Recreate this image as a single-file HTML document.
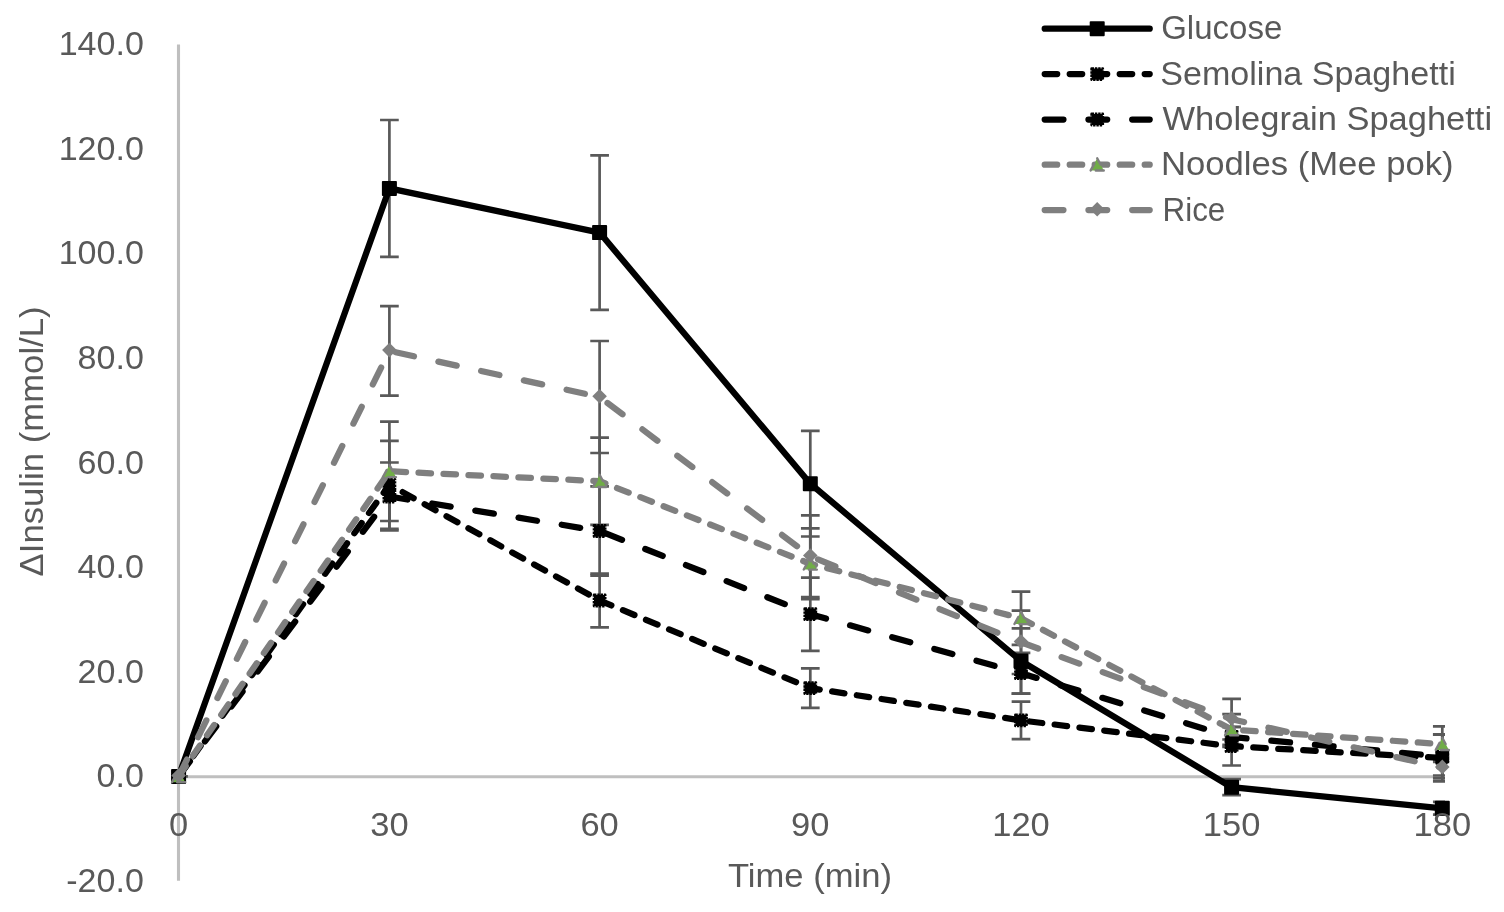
<!DOCTYPE html>
<html lang="en"><head><meta charset="utf-8"><title>Insulin response chart</title>
<style>html,body{margin:0;padding:0;background:#fff;}body{width:1504px;height:912px;overflow:hidden;}svg{display:block;}text{font-family:"Liberation Sans",sans-serif;font-size:33.6px;fill:#595959;}</style></head><body>
<svg width="1504" height="912" viewBox="0 0 1504 912">
<rect width="1504" height="912" fill="#fff"/>
<defs><clipPath id="pc"><rect x="175.9" y="40" width="1269.2" height="845"/></clipPath></defs>
<line x1="178.5" y1="44.6" x2="178.5" y2="880.8" stroke="#BFBFBF" stroke-width="3.1"/>
<line x1="178.5" y1="776.65" x2="1443.6" y2="776.65" stroke="#BFBFBF" stroke-width="3.0"/>
<g stroke="#595959" stroke-width="2.7" fill="none" clip-path="url(#pc)">
<path d="M169.25 776.4H187.95"/>
<path d="M389.40 120.00V256.80M380.05 120.00H398.75M380.05 256.80H398.75"/>
<path d="M599.60 155.30V309.90M590.25 155.30H608.95M590.25 309.90H608.95"/>
<path d="M810.30 430.90V536.50M800.95 430.90H819.65M800.95 536.50H819.65"/>
<path d="M1021.00 628.40V693.60M1011.65 628.40H1030.35M1011.65 693.60H1030.35"/>
<path d="M1231.60 779.20V795.20M1222.25 779.20H1240.95M1222.25 795.20H1240.95"/>
<path d="M1442.30 801.90V814.70M1432.95 801.90H1451.65M1432.95 814.70H1451.65"/>
<path d="M389.40 440.80V528.80M380.05 440.80H398.75M380.05 528.80H398.75"/>
<path d="M599.60 573.70V627.30M590.25 573.70H608.95M590.25 627.30H608.95"/>
<path d="M810.30 668.35V707.85M800.95 668.35H819.65M800.95 707.85H819.65"/>
<path d="M1021.00 701.65V739.15M1011.65 701.65H1030.35M1011.65 739.15H1030.35"/>
<path d="M1231.60 726.90V765.50M1222.25 726.90H1240.95M1222.25 765.50H1240.95"/>
<path d="M1442.30 734.40V781.40M1432.95 734.40H1451.65M1432.95 781.40H1451.65"/>
<path d="M389.40 462.50V530.50M380.05 462.50H398.75M380.05 530.50H398.75"/>
<path d="M599.60 486.40V575.60M590.25 486.40H608.95M590.25 575.60H608.95"/>
<path d="M810.30 577.60V650.80M800.95 577.60H819.65M800.95 650.80H819.65"/>
<path d="M1021.00 652.80V693.60M1011.65 652.80H1030.35M1011.65 693.60H1030.35"/>
<path d="M1231.60 727.00V747.00M1222.25 727.00H1240.95M1222.25 747.00H1240.95"/>
<path d="M1442.30 734.70V778.30M1432.95 734.70H1451.65M1432.95 778.30H1451.65"/>
<path d="M389.40 421.60V521.00M380.05 421.60H398.75M380.05 521.00H398.75"/>
<path d="M599.60 437.60V524.80M590.25 437.60H608.95M590.25 524.80H608.95"/>
<path d="M810.30 528.40V599.20M800.95 528.40H819.65M800.95 599.20H819.65"/>
<path d="M1021.00 591.70V644.90M1011.65 591.70H1030.35M1011.65 644.90H1030.35"/>
<path d="M1231.60 714.20V744.80M1222.25 714.20H1240.95M1222.25 744.80H1240.95"/>
<path d="M1442.30 726.40V762.00M1432.95 726.40H1451.65M1432.95 762.00H1451.65"/>
<path d="M389.40 306.15V395.65M380.05 306.15H398.75M380.05 395.65H398.75"/>
<path d="M599.60 341.00V453.00M590.25 341.00H608.95M590.25 453.00H608.95"/>
<path d="M810.30 515.30V597.20M800.95 515.30H819.65M800.95 597.20H819.65"/>
<path d="M1021.00 610.60V674.00M1011.65 610.60H1030.35M1011.65 674.00H1030.35"/>
<path d="M1231.60 698.90V739.50M1222.25 698.90H1240.95M1222.25 739.50H1240.95"/>
<path d="M1442.30 759.90V775.50M1432.95 759.90H1451.65M1432.95 775.50H1451.65"/>
</g>
<polyline points="178.60,776.40 389.40,188.40 599.60,232.60 810.30,483.70 1021.00,661.00 1231.60,787.20 1442.30,808.30" fill="none" stroke="#000000" stroke-width="6.25" stroke-linecap="round" stroke-linejoin="round"/>
<rect x="172.00" y="769.80" width="13.2" height="13.2" fill="#000" stroke="#000" stroke-width="1.8" stroke-linejoin="round"/>
<rect x="382.80" y="181.80" width="13.2" height="13.2" fill="#000" stroke="#000" stroke-width="1.8" stroke-linejoin="round"/>
<rect x="593.00" y="226.00" width="13.2" height="13.2" fill="#000" stroke="#000" stroke-width="1.8" stroke-linejoin="round"/>
<rect x="803.70" y="477.10" width="13.2" height="13.2" fill="#000" stroke="#000" stroke-width="1.8" stroke-linejoin="round"/>
<rect x="1014.40" y="654.40" width="13.2" height="13.2" fill="#000" stroke="#000" stroke-width="1.8" stroke-linejoin="round"/>
<rect x="1225.00" y="780.60" width="13.2" height="13.2" fill="#000" stroke="#000" stroke-width="1.8" stroke-linejoin="round"/>
<rect x="1435.70" y="801.70" width="13.2" height="13.2" fill="#000" stroke="#000" stroke-width="1.8" stroke-linejoin="round"/>
<polyline points="178.60,776.40 389.40,484.80 599.60,600.50 810.30,688.10 1021.00,720.40 1231.60,746.20 1442.30,757.90" fill="none" stroke="#000000" stroke-width="6.25" stroke-linecap="round" stroke-linejoin="round" stroke-dasharray="12.5 12.5"/>
<rect x="173.00" y="770.80" width="11.2" height="11.2" fill="#000" stroke="#000" stroke-width="2.6" stroke-linejoin="round" stroke-dasharray="2.4 0.9"/>
<rect x="383.80" y="479.20" width="11.2" height="11.2" fill="#000" stroke="#000" stroke-width="2.6" stroke-linejoin="round" stroke-dasharray="2.4 0.9"/>
<rect x="594.00" y="594.90" width="11.2" height="11.2" fill="#000" stroke="#000" stroke-width="2.6" stroke-linejoin="round" stroke-dasharray="2.4 0.9"/>
<rect x="804.70" y="682.50" width="11.2" height="11.2" fill="#000" stroke="#000" stroke-width="2.6" stroke-linejoin="round" stroke-dasharray="2.4 0.9"/>
<rect x="1015.40" y="714.80" width="11.2" height="11.2" fill="#000" stroke="#000" stroke-width="2.6" stroke-linejoin="round" stroke-dasharray="2.4 0.9"/>
<rect x="1226.00" y="740.60" width="11.2" height="11.2" fill="#000" stroke="#000" stroke-width="2.6" stroke-linejoin="round" stroke-dasharray="2.4 0.9"/>
<rect x="1436.70" y="752.30" width="11.2" height="11.2" fill="#000" stroke="#000" stroke-width="2.6" stroke-linejoin="round" stroke-dasharray="2.4 0.9"/>
<polyline points="178.60,776.40 389.40,496.50 599.60,531.00 810.30,614.20 1021.00,673.20 1231.60,737.00 1442.30,756.50" fill="none" stroke="#000000" stroke-width="6.25" stroke-linecap="round" stroke-linejoin="round" stroke-dasharray="18.75 25"/>
<rect x="173.00" y="770.80" width="11.2" height="11.2" fill="#000" stroke="#000" stroke-width="2.6" stroke-linejoin="round" stroke-dasharray="2.4 0.9"/>
<rect x="383.80" y="490.90" width="11.2" height="11.2" fill="#000" stroke="#000" stroke-width="2.6" stroke-linejoin="round" stroke-dasharray="2.4 0.9"/>
<rect x="594.00" y="525.40" width="11.2" height="11.2" fill="#000" stroke="#000" stroke-width="2.6" stroke-linejoin="round" stroke-dasharray="2.4 0.9"/>
<rect x="804.70" y="608.60" width="11.2" height="11.2" fill="#000" stroke="#000" stroke-width="2.6" stroke-linejoin="round" stroke-dasharray="2.4 0.9"/>
<rect x="1015.40" y="667.60" width="11.2" height="11.2" fill="#000" stroke="#000" stroke-width="2.6" stroke-linejoin="round" stroke-dasharray="2.4 0.9"/>
<rect x="1226.00" y="731.40" width="11.2" height="11.2" fill="#000" stroke="#000" stroke-width="2.6" stroke-linejoin="round" stroke-dasharray="2.4 0.9"/>
<rect x="1436.70" y="750.90" width="11.2" height="11.2" fill="#000" stroke="#000" stroke-width="2.6" stroke-linejoin="round" stroke-dasharray="2.4 0.9"/>
<polyline points="178.60,776.40 389.40,471.30 599.60,481.20 810.30,563.80 1021.00,618.30 1231.60,729.50 1442.30,744.20" fill="none" stroke="#7F7F7F" stroke-width="6.25" stroke-linecap="round" stroke-linejoin="round" stroke-dasharray="12.5 12.5"/>
<path d="M178.60 770.00 L185.20 782.20 L172.00 782.20 Z" fill="#70AD47" stroke="#7F7F7F" stroke-width="2.4" stroke-linecap="round" stroke-dasharray="7 6.9 8 5.3 8 6"/>
<path d="M389.40 464.90 L396.00 477.10 L382.80 477.10 Z" fill="#70AD47" stroke="#7F7F7F" stroke-width="2.4" stroke-linecap="round" stroke-dasharray="7 6.9 8 5.3 8 6"/>
<path d="M599.60 474.80 L606.20 487.00 L593.00 487.00 Z" fill="#70AD47" stroke="#7F7F7F" stroke-width="2.4" stroke-linecap="round" stroke-dasharray="7 6.9 8 5.3 8 6"/>
<path d="M810.30 557.40 L816.90 569.60 L803.70 569.60 Z" fill="#70AD47" stroke="#7F7F7F" stroke-width="2.4" stroke-linecap="round" stroke-dasharray="7 6.9 8 5.3 8 6"/>
<path d="M1021.00 611.90 L1027.60 624.10 L1014.40 624.10 Z" fill="#70AD47" stroke="#7F7F7F" stroke-width="2.4" stroke-linecap="round" stroke-dasharray="7 6.9 8 5.3 8 6"/>
<path d="M1231.60 723.10 L1238.20 735.30 L1225.00 735.30 Z" fill="#70AD47" stroke="#7F7F7F" stroke-width="2.4" stroke-linecap="round" stroke-dasharray="7 6.9 8 5.3 8 6"/>
<path d="M1442.30 737.80 L1448.90 750.00 L1435.70 750.00 Z" fill="#70AD47" stroke="#7F7F7F" stroke-width="2.4" stroke-linecap="round" stroke-dasharray="7 6.9 8 5.3 8 6"/>
<polyline points="178.60,776.40 389.40,350.90 599.60,397.00 810.30,556.25 1021.00,642.30 1231.60,719.20 1442.30,767.70" fill="none" stroke="#7F7F7F" stroke-width="6.25" stroke-linecap="round" stroke-linejoin="round" stroke-dasharray="18.75 25"/>
<path d="M178.60 768.30 L185.90 775.60 L178.60 782.90 L171.30 775.60 Z" fill="#7F7F7F"/>
<path d="M389.40 342.80 L396.70 350.10 L389.40 357.40 L382.10 350.10 Z" fill="#7F7F7F"/>
<path d="M599.60 388.90 L606.90 396.20 L599.60 403.50 L592.30 396.20 Z" fill="#7F7F7F"/>
<path d="M810.30 548.15 L817.60 555.45 L810.30 562.75 L803.00 555.45 Z" fill="#7F7F7F"/>
<path d="M1021.00 634.20 L1028.30 641.50 L1021.00 648.80 L1013.70 641.50 Z" fill="#7F7F7F"/>
<path d="M1231.60 711.10 L1238.90 718.40 L1231.60 725.70 L1224.30 718.40 Z" fill="#7F7F7F"/>
<path d="M1442.30 759.60 L1449.60 766.90 L1442.30 774.20 L1435.00 766.90 Z" fill="#7F7F7F"/>
<text x="66.27" y="891.9" textLength="77.63" lengthAdjust="spacingAndGlyphs">-20.0</text>
<text x="96.56" y="787.3" textLength="47.34" lengthAdjust="spacingAndGlyphs">0.0</text>
<text x="77.61" y="682.7" textLength="66.29" lengthAdjust="spacingAndGlyphs">20.0</text>
<text x="77.61" y="578.2" textLength="66.29" lengthAdjust="spacingAndGlyphs">40.0</text>
<text x="77.61" y="473.6" textLength="66.29" lengthAdjust="spacingAndGlyphs">60.0</text>
<text x="77.61" y="369.0" textLength="66.29" lengthAdjust="spacingAndGlyphs">80.0</text>
<text x="58.67" y="264.4" textLength="85.23" lengthAdjust="spacingAndGlyphs">100.0</text>
<text x="58.67" y="159.9" textLength="85.23" lengthAdjust="spacingAndGlyphs">120.0</text>
<text x="58.67" y="55.3" textLength="85.23" lengthAdjust="spacingAndGlyphs">140.0</text>
<text x="169.01" y="836" textLength="19.19" lengthAdjust="spacingAndGlyphs">0</text>
<text x="370.21" y="836" textLength="38.37" lengthAdjust="spacingAndGlyphs">30</text>
<text x="580.41" y="836" textLength="38.37" lengthAdjust="spacingAndGlyphs">60</text>
<text x="791.11" y="836" textLength="38.37" lengthAdjust="spacingAndGlyphs">90</text>
<text x="992.22" y="836" textLength="57.56" lengthAdjust="spacingAndGlyphs">120</text>
<text x="1202.82" y="836" textLength="57.56" lengthAdjust="spacingAndGlyphs">150</text>
<text x="1413.52" y="836" textLength="57.56" lengthAdjust="spacingAndGlyphs">180</text>
<text x="810" y="887.0" text-anchor="middle" textLength="164" lengthAdjust="spacingAndGlyphs">Time (min)</text>
<text transform="translate(42.5 441.4) rotate(-90)" text-anchor="middle" textLength="270" lengthAdjust="spacingAndGlyphs">ΔInsulin (mmol/L)</text>
<line x1="1044.7" y1="28.7" x2="1149.7" y2="28.7" stroke="#000000" stroke-width="6.25" stroke-linecap="round"/>
<rect x="1090.60" y="22.10" width="13.2" height="13.2" fill="#000" stroke="#000" stroke-width="1.8" stroke-linejoin="round"/>
<text x="1161.2" y="39.4" textLength="121.06" lengthAdjust="spacingAndGlyphs">Glucose</text>
<line x1="1044.7" y1="74.1" x2="1149.7" y2="74.1" stroke="#000000" stroke-width="6.25" stroke-linecap="round" stroke-dasharray="12.5 12.5"/>
<rect x="1091.60" y="68.50" width="11.2" height="11.2" fill="#000" stroke="#000" stroke-width="2.6" stroke-linejoin="round" stroke-dasharray="2.4 0.9"/>
<text x="1160.3" y="84.8" textLength="295.4" lengthAdjust="spacingAndGlyphs">Semolina Spaghetti</text>
<line x1="1044.7" y1="119.5" x2="1149.7" y2="119.5" stroke="#000000" stroke-width="6.25" stroke-linecap="round" stroke-dasharray="18.75 25"/>
<rect x="1091.60" y="113.90" width="11.2" height="11.2" fill="#000" stroke="#000" stroke-width="2.6" stroke-linejoin="round" stroke-dasharray="2.4 0.9"/>
<text x="1162.6" y="130.2" textLength="329.5" lengthAdjust="spacingAndGlyphs">Wholegrain Spaghetti</text>
<line x1="1044.7" y1="164.7" x2="1149.7" y2="164.7" stroke="#7F7F7F" stroke-width="6.25" stroke-linecap="round" stroke-dasharray="12.5 12.5"/>
<path d="M1097.20 158.30 L1103.80 170.50 L1090.60 170.50 Z" fill="#70AD47" stroke="#7F7F7F" stroke-width="2.4" stroke-linecap="round" stroke-dasharray="7 6.9 8 5.3 8 6"/>
<text x="1160.9" y="175.4" textLength="292.7" lengthAdjust="spacingAndGlyphs">Noodles (Mee pok)</text>
<line x1="1044.7" y1="210.1" x2="1149.7" y2="210.1" stroke="#7F7F7F" stroke-width="6.25" stroke-linecap="round" stroke-dasharray="18.75 25"/>
<path d="M1097.20 202.00 L1104.50 209.30 L1097.20 216.60 L1089.90 209.30 Z" fill="#7F7F7F"/>
<text x="1162.5" y="220.8" textLength="62.8" lengthAdjust="spacingAndGlyphs">Rice</text>
</svg></body></html>
